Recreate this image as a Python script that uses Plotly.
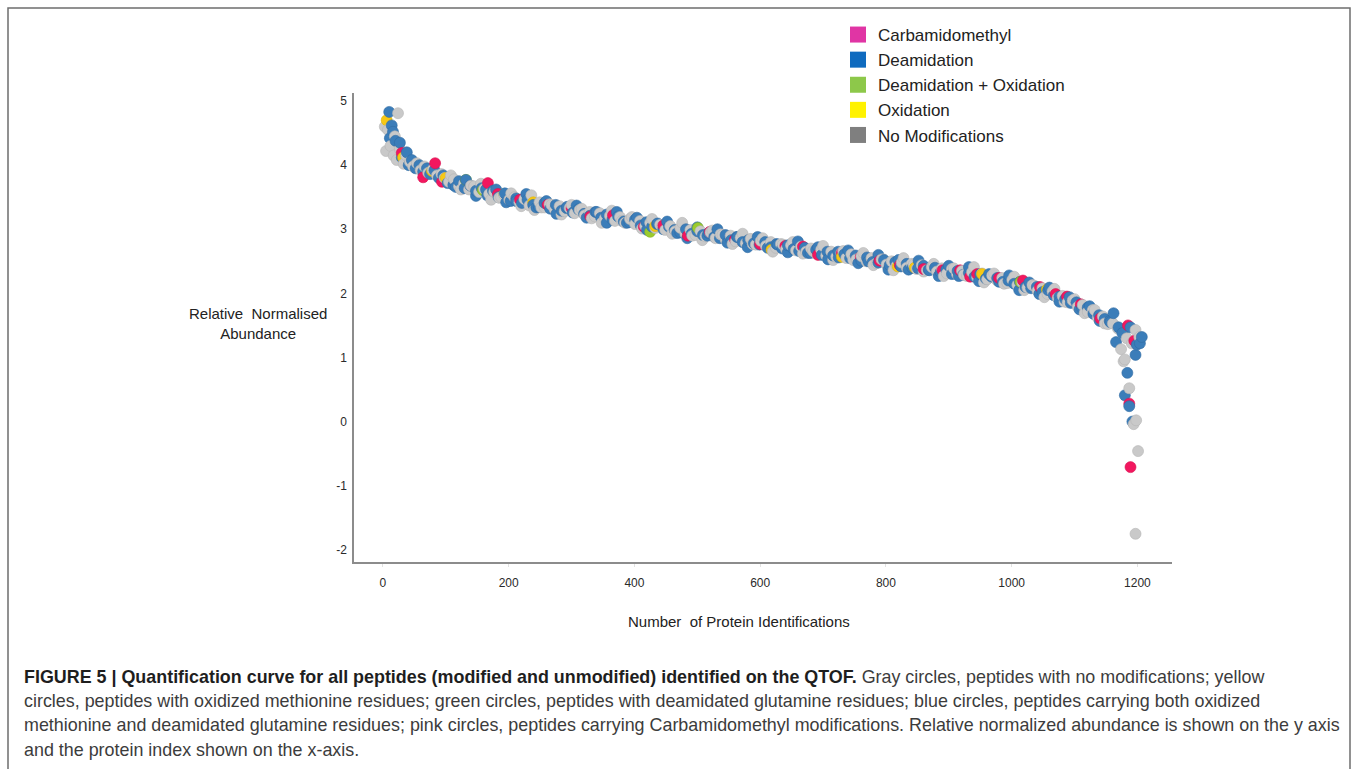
import plotly.graph_objects as go

# ---------------- data ----------------
gray_x = [3, 5, 8, 12, 17, 19, 24, 22, 27, 33, 37, 43, 48, 54, 60, 66, 72, 79, 86, 93, 98,
          105, 113, 121, 129, 137, 145, 153, 161, 169, 177, 185, 193, 201, 209, 217, 225, 233, 241,
          249, 257, 265, 273, 281, 289, 297, 305, 313, 321, 329, 337, 345, 353, 361, 369, 377, 385,
          393, 401, 409, 417, 425, 433, 441, 449, 457, 465, 473, 481, 489, 497, 505, 513, 521, 529,
          537, 545, 553, 561, 569, 577, 585, 593, 601, 609, 617, 625, 633, 641, 649, 657, 665, 673,
          681, 689, 697, 705, 713, 721, 729, 737, 745, 753, 761, 769, 777, 785, 793, 801, 809, 817,
          825, 833, 841, 849, 857, 865, 873, 881, 889, 897, 905, 913, 921, 929, 937, 945, 953, 961,
          969, 977, 985, 993, 1001, 1009, 1017, 1025, 1033, 1041, 1049, 1057, 1065, 1073, 1081, 1089,
          1097, 1105, 1113, 1121, 1129, 1137, 1145, 1153, 1161, 1169,
          1174, 1178, 1180, 1187, 1191, 1197, 1198, 1194, 1201, 1197, 1183, 1203,
          108, 124, 140, 156, 172, 188, 204, 220, 236, 252, 268, 284, 300, 316, 332, 348, 364, 380,
          396, 412, 428, 444, 460, 476, 492, 508, 524, 540, 556, 572, 588, 604, 620, 636, 652, 668,
          684, 700, 716, 732, 748, 764, 780, 796, 812, 828, 844, 860, 876, 892, 908, 924, 940, 956,
          972, 988, 1004, 1020, 1036, 1052, 1068, 1084, 1100, 1116, 1132, 1148]
gray_y = [4.60, 4.22, 4.55, 4.30, 4.15, 4.45, 4.81, 4.08, 4.25, 4.02, 4.15, 4.05, 3.98, 4.03, 3.92, 3.98, 3.88, 3.93, 3.84, 3.86, 3.80,
          3.74, 3.78, 3.67, 3.71, 3.62, 3.67, 3.58, 3.63, 3.55, 3.58, 3.49, 3.54, 3.46, 3.50, 3.42, 3.47, 3.37, 3.30,
          3.42, 3.34, 3.39, 3.31, 3.36, 3.28, 3.33, 3.25, 3.30, 3.22, 3.27, 3.20, 3.25, 3.17, 3.21, 3.13, 3.19, 3.10,
          3.16, 3.08, 3.13, 3.05, 3.10, 3.02, 3.07, 2.99, 3.05, 2.97, 3.02, 2.93, 2.99, 2.91, 2.97, 2.89, 2.95, 2.86,
          2.92, 2.84, 2.90, 2.81, 2.87, 2.78, 2.85, 2.76, 2.82, 2.74, 2.80, 2.71, 2.77, 2.69, 2.75, 2.67, 2.73, 2.65,
          2.70, 2.62, 2.68, 2.59, 2.65, 2.57, 2.63, 2.55, 2.61, 2.53, 2.58, 2.50, 2.55, 2.47, 2.53, 2.45, 2.50, 2.43,
          2.48, 2.40, 2.46, 2.38, 2.44, 2.36, 2.41, 2.34, 2.39, 2.31, 2.38, 2.30, 2.35, 2.27, 2.33, 2.25, 2.31, 2.22,
          2.28, 2.20, 2.24, 2.16, 2.21, 2.13, 2.17, 2.09, 2.13, 2.04, 2.08, 1.99, 2.03, 1.93, 1.96, 1.86,
          1.89, 1.79, 1.82, 1.71, 1.74, 1.62, 1.64, 1.52, 1.53, 1.45,
          1.13, 0.94, 0.97, 0.52, 1.22, 1.43, 0.02, -0.04, -0.46, -1.75, 1.30, 1.32,
          3.84, 3.62, 3.68, 3.71, 3.46, 3.50, 3.56, 3.36, 3.53, 3.34, 3.38, 3.23, 3.38, 3.32, 3.17, 3.10, 3.29, 3.13,
          3.19, 3.01, 3.16, 3.05, 2.93, 3.10, 2.90, 2.83, 2.98, 2.91, 2.77, 2.93, 2.77, 2.86, 2.65, 2.76, 2.80, 2.62,
          2.66, 2.74, 2.52, 2.66, 2.52, 2.63, 2.44, 2.53, 2.36, 2.55, 2.45, 2.34, 2.46, 2.27, 2.39, 2.29, 2.41, 2.17,
          2.31, 2.15, 2.26, 2.05, 2.12, 1.94, 2.07, 1.87, 1.91, 1.69, 1.74, 1.53]

blue_x = [10, 14, 11, 16, 20, 27, 30, 38, 41, 46, 52, 58, 64, 70, 75, 82, 89, 96,
          103, 112, 121, 130, 139, 148, 157, 166, 175, 184, 194, 203, 212, 221, 230, 239, 248, 257,
          266, 275, 284, 293, 302, 311, 320, 329, 338, 347, 356, 365, 374, 383, 392, 401, 410, 419,
          428, 437, 446, 455, 464, 473, 482, 491, 500, 509, 518, 527, 536, 545, 554, 563, 572, 581,
          590, 599, 608, 617, 626, 635, 644, 653, 662, 671, 680, 689, 698, 707, 716, 725, 734, 743,
          752, 761, 770, 779, 788, 797, 806, 815, 824, 833, 842, 851, 860, 869, 878, 887, 896, 905,
          914, 923, 932, 941, 950, 959, 968, 977, 986, 995, 1004, 1013, 1022, 1031, 1040, 1049, 1058,
          1067, 1076, 1085, 1094, 1103, 1112, 1121, 1130, 1139, 1148, 1157, 1162, 1166, 1170, 1176,
          1184, 1180, 1187, 1189, 1192, 1197, 1199, 1204, 1207,
          116, 132, 148, 164, 180, 196, 212, 228, 244, 260, 276, 292, 308, 324, 340, 356, 372, 388,
          404, 420, 436, 452, 468, 484, 500, 516, 532, 548, 564, 580, 596, 612, 628, 644, 660, 676,
          692, 708, 724, 740, 756, 772, 788, 804, 820, 836, 852, 868, 884, 900, 916, 932, 948, 964,
          980, 996, 1012, 1028, 1044, 1060, 1076, 1092, 1108, 1124, 1140, 1156]
blue_y = [4.83, 4.62, 4.42, 4.52, 4.38, 4.35, 4.12, 4.20, 4.00, 4.08, 3.95, 4.00, 3.90, 3.95, 3.86, 3.92, 3.80, 3.84,
          3.72, 3.69, 3.75, 3.64, 3.68, 3.60, 3.64, 3.53, 3.60, 3.50, 3.56, 3.44, 3.48, 3.41, 3.46, 3.38, 3.35, 3.41,
          3.32, 3.38, 3.29, 3.35, 3.26, 3.31, 3.24, 3.21, 3.27, 3.18, 3.23, 3.15, 3.20, 3.12, 3.11, 3.15, 3.06, 3.11,
          3.04, 3.09, 3.00, 3.04, 2.99, 2.95, 3.00, 2.93, 2.97, 2.91, 2.94, 2.88, 2.86, 2.91, 2.83, 2.88, 2.80, 2.83,
          2.78, 2.76, 2.80, 2.72, 2.77, 2.70, 2.75, 2.69, 2.66, 2.71, 2.63, 2.68, 2.60, 2.65, 2.59, 2.56, 2.61, 2.55,
          2.59, 2.51, 2.56, 2.49, 2.48, 2.52, 2.44, 2.49, 2.42, 2.46, 2.40, 2.39, 2.43, 2.36, 2.40, 2.33, 2.37, 2.30,
          2.35, 2.29, 2.32, 2.26, 2.30, 2.23, 2.26, 2.24, 2.18, 2.20, 2.15, 2.18, 2.10, 2.08, 2.10, 2.02, 2.05,
          1.97, 1.95, 1.91, 1.85, 1.86, 1.77, 1.78, 1.68, 1.66, 1.60, 1.55, 1.69, 1.24, 1.47, 1.38,
          0.76, 0.41, 0.24, 1.47, 0.00, 1.04, 1.20, 1.22, 1.32,
          3.66, 3.77, 3.52, 3.62, 3.62, 3.42, 3.44, 3.55, 3.34, 3.44, 3.24, 3.33, 3.37, 3.18, 3.27, 3.10, 3.27, 3.10,
          3.18, 2.99, 3.08, 3.12, 2.94, 2.86, 3.03, 2.90, 3.00, 2.79, 2.88, 2.72, 2.88, 2.71, 2.76, 2.64, 2.81, 2.63,
          2.72, 2.53, 2.65, 2.67, 2.47, 2.50, 2.60, 2.37, 2.52, 2.37, 2.51, 2.37, 2.27, 2.43, 2.27, 2.41, 2.19, 2.30,
          2.18, 2.28, 2.05, 2.17, 1.99, 2.09, 1.87, 1.94, 1.75, 1.80, 1.57, 1.57]

pink_x = [30, 64, 83, 94, 167, 183, 218, 262, 300, 330, 366, 415, 446, 485, 520, 560, 600, 640, 668,
          692, 730, 760, 790, 822, 860, 890, 918, 934, 945, 980, 1018, 1045, 1070, 1088, 1110, 1141,
          1185, 1187, 1189, 1195]
pink_y = [4.19, 3.81, 4.03, 3.74, 3.72, 3.55, 3.46, 3.38, 3.33, 3.20, 3.22, 3.04, 3.06, 2.90, 2.96, 2.84, 2.77, 2.74, 2.73,
          2.60, 2.63, 2.57, 2.51, 2.44, 2.38, 2.36, 2.36, 2.26, 2.30, 2.24, 2.20, 2.10, 1.99, 1.95, 1.83, 1.61,
          1.50, 0.28, -0.71, 1.26]

yellow_x = [6, 32, 78, 100, 239, 433, 618, 730, 819, 846, 953, 1056]
yellow_y = [4.70, 4.12, 3.91, 3.80, 3.42, 3.05, 2.68, 2.57, 2.42, 2.40, 2.30, 2.06]

green_x = [132, 159, 193, 425, 501, 1014]
green_y = [3.77, 3.61, 3.55, 2.96, 3.02, 2.18]

legend_names = ["Carbamidomethyl", "Deamidation", "Deamidation + Oxidation", "Oxidation", "No Modifications"]
legend_colors = ["#E035A4", "#0F6BBF", "#8DC84A", "#FFF200", "#7F7F7F"]

x_ticks = [0, 200, 400, 600, 800, 1000, 1200]
x_tick_labels = ["0", "200", "400", "600", "800", "1000", "1200"]
y_ticks = [-2, -1, 0, 1, 2, 3, 4, 5]
y_tick_labels = ["-2", "-1", "0", "1", "2", "3", "4", "5"]

caption_bold = "FIGURE 5 | Quantification curve for all peptides (modified and unmodified) identified on the QTOF."
caption_lines = [
    " Gray circles, peptides with no modifications; yellow",
    "circles, peptides with oxidized methionine residues; green circles, peptides with deamidated glutamine residues; blue circles, peptides carrying both oxidized",
    "methionine and deamidated glutamine residues; pink circles, peptides carrying Carbamidomethyl modifications. Relative normalized abundance is shown on the y axis",
    "and the protein index shown on the x-axis.",
]

# ---------------- layout geometry ----------------
W, H = 1357, 769
L, R, T, B = 354, 1172, 93, 562
def px(xp):
    return (xp - L) / (R - L)
def py(yp):
    return (B - yp) / (B - T)

FONT = "Liberation Sans, Arial, sans-serif"

# one trace, points drawn in index order so the colours interleave as in the original
styles = [
    (gray_x, gray_y, "#C9C9C9", "#B5B5B5"),
    (blue_x, blue_y, "#3B7DB9", "#306CA2"),
    (pink_x, pink_y, "#F2175F", "#D9104F"),
    (yellow_x, yellow_y, "#F7C815", "#E0B400"),
    (green_x, green_y, "#9CCB2E", "#86B322"),
]
pts = []
for k, (xs, ys, col, edge) in enumerate(styles):
    for i, (a, b) in enumerate(zip(xs, ys)):
        pts.append((a, (i * 7 + k * 3) % 5, b, col, edge))
pts.sort(key=lambda p: (p[0], p[1]))

fig = go.Figure()
fig.add_trace(go.Scatter(
    x=[p[0] for p in pts], y=[p[2] for p in pts], mode="markers", showlegend=False,
    hoverinfo="x+y",
    marker=dict(size=11, color=[p[3] for p in pts],
                line=dict(width=0.6, color=[p[4] for p in pts])),
))

for name, col in zip(legend_names, legend_colors):
    fig.add_trace(go.Scatter(
        x=[None], y=[None], mode="markers", name=name,
        marker=dict(symbol="square", size=17, color=col, line=dict(width=0)),
    ))

fig.update_layout(
    width=W, height=H,
    margin=dict(l=L, r=W - R, t=T, b=H - B, pad=0),
    paper_bgcolor="white", plot_bgcolor="white",
    font=dict(family=FONT, color="#333333"),
    showlegend=True,
    legend=dict(
        x=px(838), y=py(17), xanchor="left", yanchor="top",
        font=dict(size=17, color="#222222", family=FONT),
        bgcolor="rgba(0,0,0,0)", tracegroupgap=0, itemsizing="trace",
    ),
    xaxis=dict(
        range=[-46, 1255], tickvals=x_ticks, ticktext=x_tick_labels,
        showgrid=False, zeroline=False,
        showline=True, linecolor="#8C8C8C", linewidth=1.5,
        ticks="outside", ticklen=3, tickcolor="#E2E2E2", ticklabelstandoff=6,
        tickfont=dict(size=12, color="#2A2A2A", family=FONT),
    ),
    yaxis=dict(
        range=[-2.19, 5.125], tickvals=y_ticks, ticktext=y_tick_labels,
        showgrid=False, zeroline=False,
        showline=True, linecolor="#8C8C8C", linewidth=1.5,
        ticks="", ticklabelstandoff=3,
        tickfont=dict(size=12, color="#2A2A2A", family=FONT),
    ),
)

annotations = [
    dict(text="Relative  Normalised<br>Abundance", x=px(258), y=py(323), xref="paper", yref="paper",
         xanchor="center", yanchor="middle", showarrow=False, align="center",
         font=dict(size=15, color="#222222", family=FONT)),
    dict(text="Number  of Protein Identifications", x=px(739), y=py(621), xref="paper", yref="paper",
         xanchor="center", yanchor="middle", showarrow=False,
         font=dict(size=15, color="#222222", family=FONT)),
]
cap_y = [677, 701, 725, 750]
first = "<b>" + caption_bold + "</b>" + "<span style='color:#3C3C3C'>" + caption_lines[0] + "</span>"
texts = [first] + caption_lines[1:]
for t, yy in zip(texts, cap_y):
    annotations.append(dict(
        text=t, x=px(22), y=py(yy), xref="paper", yref="paper",
        xanchor="left", yanchor="middle", showarrow=False, align="left",
        font=dict(size=17.9, color="#1E1E1E" if t is first else "#3C3C3C", family=FONT),
    ))
fig.update_layout(annotations=annotations)

fig.add_shape(type="rect", xref="paper", yref="paper",
              x0=px(8), x1=px(1350), y0=py(780), y1=py(8),
              line=dict(color="#6E6E6E", width=1.5), fillcolor="rgba(0,0,0,0)", layer="below")

fig.write_html("out.html", config={"displayModeBar": False},
               post_script="document.body.style.margin='0';document.body.style.overflow='hidden';")
